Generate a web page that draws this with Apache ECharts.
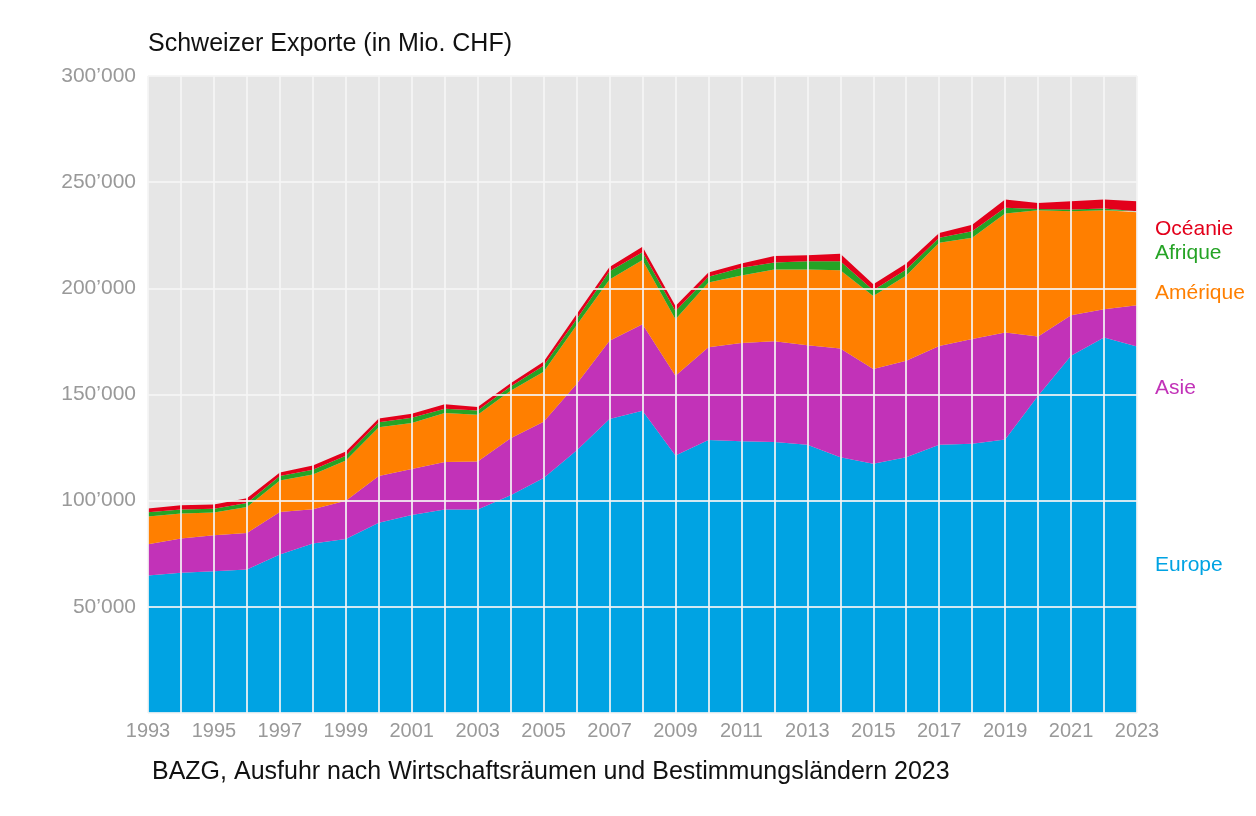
<!DOCTYPE html>
<html>
<head>
<meta charset="utf-8">
<script src="https://cdn.jsdelivr.net/npm/echarts@6/dist/echarts.min.js"></script>
<style>
  html, body { margin: 0; padding: 0; background: #fff; }
  #chart { width: 1256px; height: 816px; }
</style>
</head>
<body>
<div id="chart"></div>
<script>
var years = ['1993', '1994', '1995', '1996', '1997', '1998', '1999', '2000', '2001', '2002',
    '2003', '2004', '2005', '2006', '2007', '2008', '2009', '2010', '2011', '2012',
    '2013', '2014', '2015', '2016', '2017', '2018', '2019', '2020', '2021', '2022', '2023'];

// Mio. CHF
var europe = [64800, 66000, 66700, 67600, 74700, 79800, 82000, 89600, 93300, 95800,
    95800, 102500, 110700, 123600, 138500, 142400, 121300, 128600, 128000, 127600,
    126300, 120500, 117400, 120500, 126300, 126800, 128800, 149400, 168200, 176800, 172600];
var asie = [14700, 16200, 17000, 17200, 20000, 16100, 18000, 22000, 21600, 22400,
    22700, 26900, 26500, 31300, 36800, 40700, 37500, 43600, 46200, 47500,
    46900, 51200, 44600, 45400, 46600, 49300, 50400, 27900, 19100, 13300, 19400];
var amerique = [13100, 11700, 10700, 12200, 14800, 16400, 18900, 23000, 21700, 23100,
    22000, 22400, 23500, 27700, 28900, 30200, 26600, 30500, 31900, 33800,
    35700, 36800, 34400, 40200, 48600, 47700, 56000, 59500, 49000, 46700, 43800];
var afrique = [1900, 1900, 1800, 1900, 2100, 2300, 2200, 2300, 2400, 2000,
    2000, 2000, 2800, 2800, 3900, 3700, 3900, 2800, 3600, 3300,
    3900, 4300, 2700, 2800, 2300, 3100, 2700, 600, 800, 800, 500];
var oceanie = [1800, 2000, 2000, 2200, 1700, 2000, 2100, 1800, 1900, 2100,
    1600, 1500, 1900, 2400, 1900, 2600, 2400, 1900, 2000, 3000,
    2800, 3500, 2800, 2800, 2300, 3100, 3900, 2800, 3900, 4200, 4700];

var yTicks = [50000, 100000, 150000, 200000, 250000, 300000];

var colors = {
    Europe: '#00a3e3',
    Asie: '#c232b8',
    'Amérique': '#ff7f00',
    Afrique: '#25a325',
    'Océanie': '#e3001b'
};

function fmt(v) {
    if (v === 0) return '';
    var s = String(v);
    return s.replace(/\B(?=(\d{3})+(?!\d))/g, '\u2019');
}

function area(name, data) {
    return {
        name: name,
        type: 'line',
        stack: 'total',
        data: data,
        symbol: 'none',
        lineStyle: { width: 0 },
        areaStyle: { color: colors[name], opacity: 1 },
        itemStyle: { color: colors[name] },
        silent: true
    };
}

function sideLabel(name, y) {
    return {
        type: 'text', x: 1155, y: y,
        style: { text: name, fill: colors[name], font: '21px ' + font, verticalAlign: 'middle' }
    };
}

var font = 'Liberation Sans, Arial, sans-serif';

var chart = echarts.init(document.getElementById('chart'));
chart.setOption({
    animation: false,
    textStyle: { fontFamily: font },
    grid: {
        left: 148, right: 119, top: 76, bottom: 103,
        show: true, backgroundColor: '#e6e6e6', borderWidth: 0
    },
    xAxis: {
        type: 'category',
        data: years,
        boundaryGap: false,
        axisLine: { show: false },
        axisTick: { show: false },
        axisLabel: { interval: 1, color: '#999', fontSize: 20, margin: 8, fontFamily: font },
        splitLine: { show: true, interval: 0, lineStyle: { color: '#f4f4f4', width: 2, opacity: 0.85 } },
        z: 10
    },
    yAxis: {
        type: 'value',
        min: 0,
        max: yTicks[yTicks.length - 1],
        interval: yTicks[1] - yTicks[0],
        axisLine: { show: false },
        axisTick: { show: false },
        axisLabel: { color: '#999', fontSize: 21, margin: 12, formatter: fmt, fontFamily: font },
        splitLine: { show: true, lineStyle: { color: '#f4f4f4', width: 2, opacity: 0.85 } },
        z: 10
    },
    series: [
        area('Europe', europe),
        area('Asie', asie),
        area('Amérique', amerique),
        area('Afrique', afrique),
        area('Océanie', oceanie)
    ],
    graphic: [
        { type: 'text', x: 148, y: 44, style: { text: 'Schweizer Exporte (in Mio. CHF)', fill: '#111', font: '25px ' + font, verticalAlign: 'middle' } },
        { type: 'text', x: 152, y: 772, style: { text: 'BAZG, Ausfuhr nach Wirtschaftsräumen und Bestimmungsländern 2023', fill: '#111', font: '25px ' + font, verticalAlign: 'middle' } },
        sideLabel('Océanie', 229),
        sideLabel('Afrique', 253),
        sideLabel('Amérique', 293),
        sideLabel('Asie', 388),
        sideLabel('Europe', 565)
    ]
});
</script>
</body>
</html>
